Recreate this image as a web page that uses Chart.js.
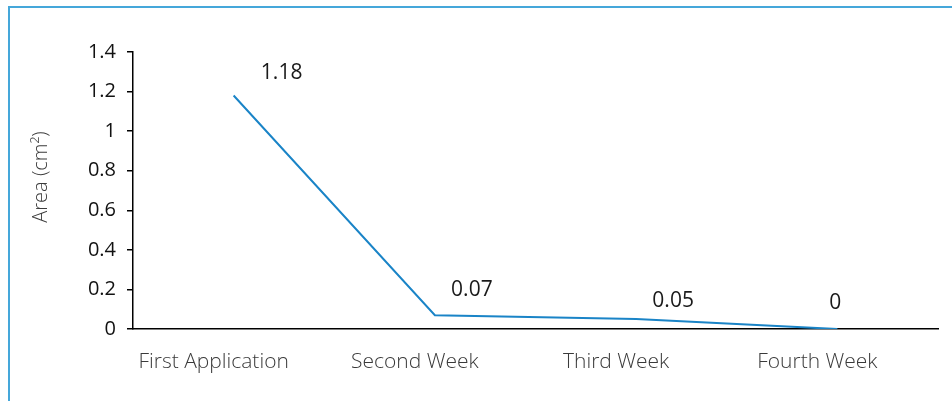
<!DOCTYPE html>
<html>
<head>
<meta charset="utf-8">
<script src="https://cdn.jsdelivr.net/npm/chart.js@4/dist/chart.umd.min.js"></script>
<style>
  html, body { margin: 0; padding: 0; background: #ffffff; overflow: hidden; }
  #wrap { position: relative; width: 952px; height: 401px; }
  #frame {
    position: absolute; left: 8px; top: 6px; width: 2000px; height: 2000px;
    border-top: 2px solid #45a7da; border-left: 2px solid #45a7da;
  }
  canvas { position: absolute; left: 0; top: 0; }
</style>
</head>
<body>
<div id="wrap">
  <div id="frame"></div>
  <canvas id="chart" width="952" height="401"></canvas>
</div>
<script>
// Wound area over the treatment period
const categories = ['First Application', 'Second Week', 'Third Week', 'Fourth Week'];
const areaValues = [1.18, 0.07, 0.05, 0];
const yTickLabels = ['0', '0.2', '0.4', '0.6', '0.8', '1', '1.2', '1.4'];
const yAxisTitle = 'Area (cm\u00B2)';

const FONT = "'Open Sans', 'Noto Sans', sans-serif";

// Value labels written next to each point of the line
const valueLabels = {
  id: 'valueLabels',
  afterDatasetsDraw(chart, args, opts) {
    const ctx = chart.ctx;
    const meta = chart.getDatasetMeta(0);
    ctx.save();
    ctx.font = '21px ' + FONT;
    ctx.fillStyle = '#1a1a1a';
    ctx.textAlign = 'center';
    ctx.textBaseline = 'middle';
    meta.data.forEach((pt, i) => {
      const v = chart.data.datasets[0].data[i];
      ctx.fillText(String(v), pt.x + opts.dx[i], pt.y + opts.dy[i]);
    });
    ctx.restore();
  }
};

// Rotated y-axis title
const axisTitle = {
  id: 'axisTitle',
  afterDraw(chart, args, opts) {
    const ctx = chart.ctx;
    ctx.save();
    ctx.translate(opts.x, opts.y);
    ctx.rotate(-Math.PI / 2);
    ctx.font = '300 20px ' + FONT;
    ctx.fillStyle = '#3a3a3a';
    ctx.textAlign = 'center';
    ctx.textBaseline = 'middle';
    ctx.fillText(opts.text, 0, 0);
    ctx.restore();
  }
};

new Chart(document.getElementById('chart'), {
  type: 'line',
  data: {
    labels: categories,
    datasets: [{
      data: areaValues,
      borderColor: '#1a84c7',
      borderWidth: 2,
      pointRadius: 0,
      pointHoverRadius: 0,
      tension: 0,
      fill: false
    }]
  },
  options: {
    responsive: false,
    animation: false,
    events: [],
    layout: { padding: { left: 0, top: 52, right: 14, bottom: 0 } },
    plugins: {
      legend: { display: false },
      tooltip: { enabled: false },
      valueLabels: { dx: [48, 37, 37, -2], dy: [-23, -25, -18, -26] },
      axisTitle: { x: 41, y: 177, text: yAxisTitle }
    },
    scales: {
      x: {
        offset: true,
        grid: { display: false },
        border: { display: true, color: '#000000', width: 1.5 },
        ticks: {
          color: '#3a3a3a',
          font: { family: FONT, size: 21, weight: 300 },
          padding: 12,
          labelOffset: -20,
          maxRotation: 0,
          autoSkip: false
        },
        afterFit(scale) { scale.height = 72; }
      },
      y: {
        min: 0,
        max: 1.4,
        grid: { display: true, drawOnChartArea: false, drawTicks: true, tickLength: 6, color: '#000000', lineWidth: 1.5 },
        border: { display: true, color: '#000000', width: 1.5 },
        ticks: {
          stepSize: 0.2,
          color: '#111111',
          font: { family: FONT, size: 20 },
          padding: 11,
          callback: (value, index) => yTickLabels[index]
        },
        afterFit(scale) { scale.width = 133; }
      }
    }
  },
  plugins: [valueLabels, axisTitle]
});
</script>
</body>
</html>
